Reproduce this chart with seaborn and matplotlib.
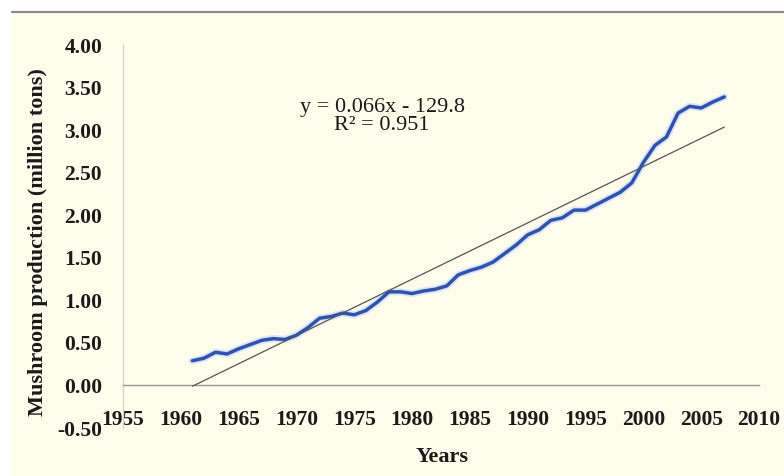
import numpy as np
import pandas as pd
import matplotlib
matplotlib.use("Agg")
import matplotlib.pyplot as plt
import seaborn as sns
from matplotlib.patches import Rectangle
from matplotlib.lines import Line2D

# -----------------------------
# DATA
# -----------------------------
years = list(range(1961, 2008))
production = [0.29, 0.32, 0.39, 0.37, 0.43, 0.48, 0.53, 0.55, 0.54, 0.59,
              0.68, 0.79, 0.81, 0.85, 0.83, 0.88, 0.98, 1.10, 1.10, 1.08,
              1.11, 1.13, 1.17, 1.30, 1.35, 1.39, 1.45, 1.55, 1.65, 1.77,
              1.83, 1.94, 1.97, 2.06, 2.06, 2.13, 2.20, 2.27, 2.38, 2.62,
              2.82, 2.92, 3.20, 3.28, 3.26, 3.33, 3.39]
x_ticks = list(range(1955, 2011, 5))
y_ticks = [-0.5, 0.0, 0.5, 1.0, 1.5, 2.0, 2.5, 3.0, 3.5, 4.0]
equation_text = "y = 0.066x - 129.8"
r2_text = "R\u00b2 = 0.951"

df = pd.DataFrame({"year": years, "production": production})

# -----------------------------
# STYLE
# -----------------------------
sns.set_style("white")
plt.rcParams["font.family"] = ["Liberation Serif", "DejaVu Serif"]
plt.rcParams["axes.unicode_minus"] = False

cream = "#FEFCEA"
ink = "#1a1a1a"
W, H = 784, 476

fig = plt.figure(figsize=(W / 100, H / 100), dpi=100, facecolor="white")
fig.patches.append(Rectangle((12 / W, 0), 1 - 12 / W, 1 - 12 / H,
                             transform=fig.transFigure, facecolor=cream,
                             edgecolor="none", zorder=-10))
fig.lines.append(Line2D([12 / W, 1], [1 - 11.5 / H, 1 - 11.5 / H],
                        transform=fig.transFigure, color="#8c8c8c", lw=1.6))

ax = fig.add_axes([123 / W, 1 - 428 / H, 636 / W, 383 / H])
ax.set_facecolor(cream)

# -----------------------------
# LINES
# -----------------------------
sns.lineplot(data=df, x="year", y="production", ax=ax,
             color="#dde6f7", lw=5.2, zorder=2)
sns.lineplot(data=df, x="year", y="production", ax=ax,
             color="#2f52ad", lw=2.5, zorder=3)
sns.regplot(data=df, x="year", y="production", ax=ax, scatter=False,
            ci=None, truncate=True,
            line_kws={"color": "#555555", "lw": 0.9, "zorder": 4})

# -----------------------------
# AXES
# -----------------------------
ax.set_xlim(1955, 2010)
ax.set_ylim(-0.5, 4.0)
ax.set_xticks(x_ticks)
ax.set_yticks(y_ticks)
ax.set_yticklabels([f"{v:.2f}" for v in y_ticks])

for s in ["top", "right"]:
    ax.spines[s].set_visible(False)
ax.spines["bottom"].set_position(("data", 0))
ax.spines["bottom"].set_color("#9a9a9a")
ax.spines["left"].set_color("#d8d6c8")
ax.spines["bottom"].set_linewidth(1.0)
ax.spines["left"].set_linewidth(1.0)

ax.tick_params(axis="x", direction="out", length=4, width=0.8,
               color="#b0b0b0", pad=14, labelsize=15.5, labelcolor=ink)
ax.tick_params(axis="y", direction="out", length=4, width=0.8,
               color="#c8c8c8", pad=11, labelsize=15.5, labelcolor=ink)
for lab in ax.get_xticklabels() + ax.get_yticklabels():
    lab.set_fontweight("bold")

ax.set_xlabel("")
ax.set_ylabel("")
fig.text(38 / W, 1 - 242 / H, "Mushroom production (million tons)",
         rotation=90, ha="center", va="center", fontsize=16,
         fontweight="bold", color=ink)
fig.text(442 / W, 1 - 457 / H, "Years", ha="center", va="center",
         fontsize=16, fontweight="bold", color=ink)

ax.text(1977.4, 3.27, equation_text, ha="center", va="center",
        fontsize=16, color=ink)
ax.text(1977.4, 3.05, r2_text, ha="center", va="center",
        fontsize=16, color=ink)

fig.savefig("out.png", dpi=100, facecolor=fig.get_facecolor())
